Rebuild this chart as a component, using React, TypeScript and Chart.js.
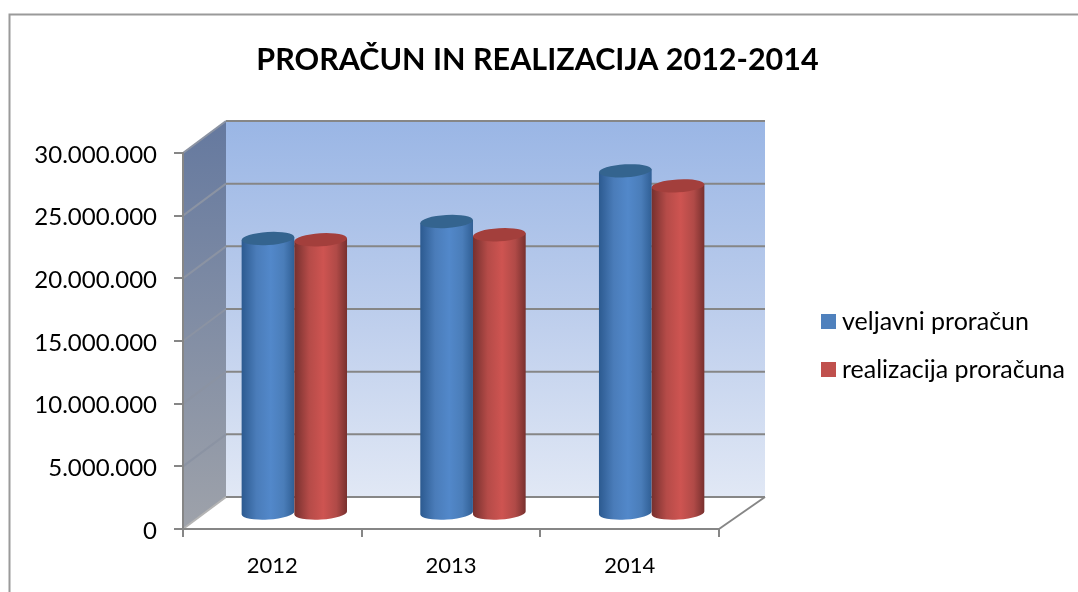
import React, { useEffect, useRef } from "react";
import { Chart, registerables } from "chart.js";

Chart.register(...registerables);

const categories = ["2012", "2013", "2014"];
const plannedBudget = [21900000, 23260000, 27300000];
const realizedBudget = [21800000, 22200000, 26100000];
const seriesNames = ["veljavni proračun", "realizacija proračuna"];
const seriesColors = ["#4f81bd", "#c0504d"];
const chartTitle = "PRORAČUN IN REALIZACIJA 2012-2014";
const FONT = "Lato, Carlito, sans-serif";
const GREY = "#868686";
const DEPTH_X = 43;
const DEPTH_Y = 32;

const bodyStops = [
  ["#2c5a90", "#4a7cb9", "#5288ca", "#4a7db9", "#305f95"],
  ["#76302e", "#b54b48", "#ce5451", "#b04a47", "#78302e"],
];
const capColors = ["#34648f", "#a33f3c"];

const scene = {
  id: "scene",
  afterLayout(chart: any) {
    if (chart.titleBlock) {
      chart.titleBlock.left = 0;
      chart.titleBlock.right = 1075;
    }
  },
  beforeDraw(chart: any) {
    const { ctx, chartArea: a, scales } = chart;
    const y = scales.y;
    const dx = DEPTH_X;
    const dy = DEPTH_Y;
    const backRight = a.right + dx + 3;
    ctx.save();
    ctx.fillStyle = "#ffffff";
    ctx.fillRect(0, 0, chart.width, chart.height);
    ctx.strokeStyle = "#9a9a9a";
    ctx.lineWidth = 2;
    ctx.strokeRect(9.5, 14.5, 1300, 1000);

    const back = ctx.createLinearGradient(0, a.top - dy, 0, a.bottom - dy);
    back.addColorStop(0, "#9ab6e5");
    back.addColorStop(0.5, "#bccdec");
    back.addColorStop(1, "#e1e8f5");
    ctx.fillStyle = back;
    ctx.fillRect(a.left + dx, a.top - dy, backRight - a.left - dx, a.bottom - a.top);

    const side = ctx.createLinearGradient(0, a.top - dy, 0, a.bottom);
    side.addColorStop(0, "#65799f");
    side.addColorStop(1, "#9ea2aa");
    ctx.fillStyle = side;
    ctx.beginPath();
    ctx.moveTo(a.left, a.top);
    ctx.lineTo(a.left + dx, a.top - dy);
    ctx.lineTo(a.left + dx, a.bottom - dy);
    ctx.lineTo(a.left, a.bottom);
    ctx.closePath();
    ctx.fill();

    ctx.lineWidth = 2;
    y.ticks.forEach((t: any) => {
      const py = y.getPixelForValue(t.value);
      ctx.strokeStyle = t.value === 0 ? "#b4b4b4" : "#8b93a3";
      ctx.beginPath();
      ctx.moveTo(a.left, py);
      ctx.lineTo(a.left + dx, py - dy);
      ctx.stroke();
      ctx.strokeStyle = GREY;
      ctx.beginPath();
      ctx.moveTo(a.left + dx, py - dy);
      ctx.lineTo(backRight, py - dy);
      ctx.stroke();
    });
    ctx.strokeStyle = GREY;
    ctx.beginPath();
    ctx.moveTo(a.right, a.bottom);
    ctx.lineTo(backRight, a.bottom - dy);
    ctx.stroke();
    ctx.restore();
  },
  beforeDatasetsDraw(chart: any) {
    const { ctx, scales } = chart;
    const zero = scales.y.getPixelForValue(0);
    const ox = DEPTH_X / 2 + 0.5;
    const oy = DEPTH_Y / 2;
    const ry = 6.5;
    const tilt = -0.06;
    chart.data.datasets.forEach((_d: any, di: number) => {
      chart.getDatasetMeta(di).data.forEach((bar: any) => {
        const left = bar.x - bar.width / 2 + ox;
        const right = bar.x + bar.width / 2 + ox;
        const cx = bar.x + ox;
        const rx = bar.width / 2;
        const top = bar.y - oy;
        const base = zero - oy;
        const lift = rx * Math.sin(tilt);
        const g = ctx.createLinearGradient(left, 0, right, 0);
        [0, 0.28, 0.55, 0.8, 1].forEach((s, i) => g.addColorStop(s, bodyStops[di][i]));
        ctx.save();
        ctx.fillStyle = g;
        ctx.beginPath();
        ctx.moveTo(left, top - lift);
        ctx.lineTo(left, base - lift);
        ctx.ellipse(cx, base, rx, ry, tilt, Math.PI, 0, true);
        ctx.lineTo(right, top + lift);
        ctx.closePath();
        ctx.fill();
        ctx.fillStyle = capColors[di];
        ctx.beginPath();
        ctx.ellipse(cx, top, rx, ry, tilt, 0, Math.PI * 2);
        ctx.fill();
        ctx.restore();
      });
    });
  },
  beforeDatasetDraw() {
    return false;
  },
  afterDraw(chart: any) {
    const { ctx } = chart;
    ctx.save();
    ctx.textBaseline = "middle";
    ctx.textAlign = "left";
    ctx.font = `25px ${FONT}`;
    chart.data.datasets.forEach((d: any, i: number) => {
      const top = 314 + i * 48;
      ctx.fillStyle = d.backgroundColor;
      ctx.fillRect(821, top, 15, 15);
      ctx.fillStyle = "#000000";
      ctx.fillText(d.label, 842, top + 7.5);
    });
    ctx.restore();
  },
};

export default function App() {
  const ref = useRef<HTMLCanvasElement>(null);
  useEffect(() => {
    const chart = new Chart(ref.current as HTMLCanvasElement, {
      type: "bar",
      data: {
        labels: categories,
        datasets: [
          { label: seriesNames[0], data: plannedBudget, backgroundColor: seriesColors[0] },
          { label: seriesNames[1], data: realizedBudget, backgroundColor: seriesColors[1] },
        ],
      },
      options: {
        responsive: false,
        animation: false,
        layout: { padding: { top: 0, left: 0, right: 359, bottom: 0 } },
        datasets: { bar: { categoryPercentage: 0.59, barPercentage: 1 } },
        plugins: {
          legend: { display: false },
          tooltip: { enabled: false },
          title: {
            display: true,
            text: chartTitle,
            color: "#000000",
            font: { family: FONT, size: 30.5, weight: "bold", lineHeight: 1.2 },
            padding: { top: 42, bottom: 74.4 },
          },
        },
        scales: {
          x: {
            grid: { drawOnChartArea: false, color: GREY, lineWidth: 2, tickLength: 8 },
            border: { color: GREY, width: 2 },
            ticks: { color: "#000000", padding: 16, font: { family: FONT, size: 22 }, maxRotation: 0 },
            afterFit(s: any) { s.height = 63; },
          },
          y: {
            min: 0,
            max: 30000000,
            grid: { drawOnChartArea: false, color: GREY, lineWidth: 2, tickLength: 9 },
            border: { color: GREY, width: 2 },
            ticks: {
              stepSize: 5000000,
              color: "#000000",
              padding: 17,
              labelOffset: 2,
              font: { family: FONT, size: 24 },
              callback: (v: any) => String(v).replace(/\B(?=(\d{3})+$)/g, "."),
            },
            afterFit(s: any) { s.width = 183; },
          },
        },
      },
      plugins: [scene],
    } as any);
    return () => chart.destroy();
  }, []);
  return (
    <div style={{ position: "fixed", left: 0, top: 0, width: 1078, height: 592 }}>
      <canvas ref={ref} width={1078} height={592} style={{ display: "block" }} />
    </div>
  );
}
